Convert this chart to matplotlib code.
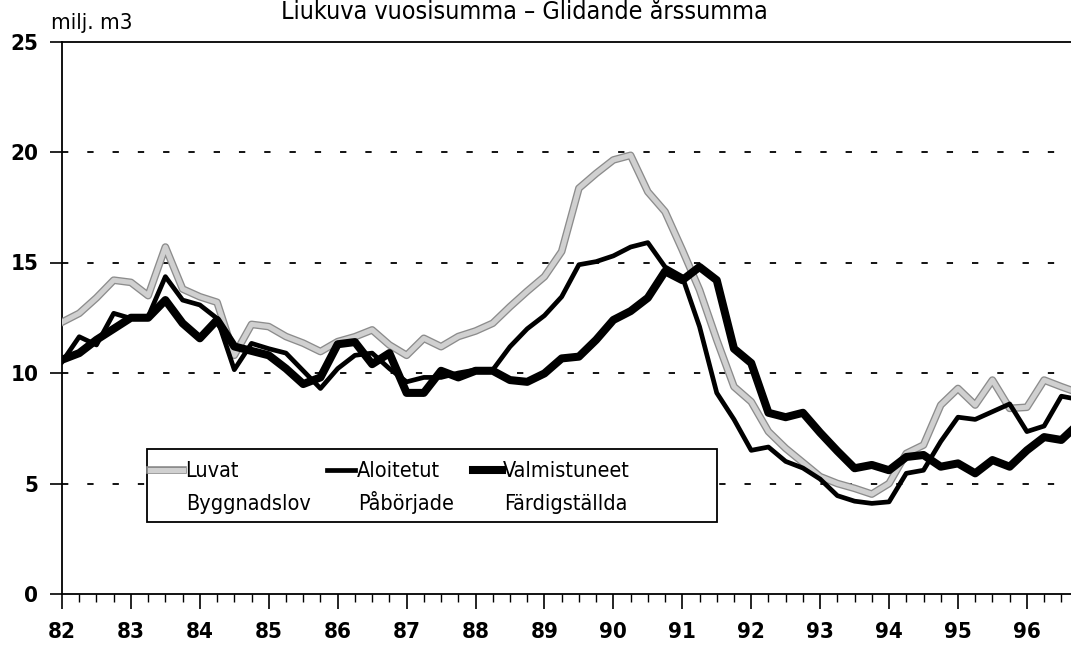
import numpy as np
import matplotlib
matplotlib.use("Agg")
import matplotlib.pyplot as plt
import matplotlib.patheffects as pe
from matplotlib.lines import Line2D
from matplotlib.patches import Rectangle
from matplotlib.ticker import MultipleLocator

# quarterly data 1982 Q1 .. 1996 Q4, milj. m3 (moving annual sum)
years = np.arange(82, 96.76, 0.25)

luvat = [12.3, 12.7, 13.4, 14.2, 14.1, 13.5, 15.7, 13.8, 13.45, 13.2, 10.8, 12.2,
         12.1, 11.65, 11.35, 10.97, 11.42, 11.64, 11.95, 11.27, 10.8, 11.57, 11.19, 11.65,
         11.9, 12.25, 13.0, 13.7, 14.36, 15.5, 18.36, 19.03, 19.64, 19.85, 18.2, 17.3,
         15.57, 13.76, 11.5, 9.38, 8.7, 7.35, 6.59, 5.95, 5.31, 5.0, 4.78, 4.52,
         5.0, 6.36, 6.74, 8.55, 9.3, 8.55, 9.68, 8.4, 8.45, 9.68, 9.38, 9.1]

aloitetut = [10.5, 11.64, 11.27, 12.7, 12.47, 12.55, 14.36, 13.3, 13.08, 12.47, 10.15, 11.34,
             11.1, 10.9, 10.1, 9.3, 10.2, 10.8, 10.9, 10.2, 9.6, 9.8, 9.8, 10.0,
             10.14, 10.14, 11.19, 12.0, 12.6, 13.45, 14.9, 15.04, 15.3, 15.7, 15.9, 14.8,
             14.36, 12.1, 9.1, 7.9, 6.5, 6.65, 6.0, 5.7, 5.2, 4.45, 4.2, 4.1,
             4.17, 5.46, 5.6, 6.9, 8.0, 7.9, 8.25, 8.6, 7.35, 7.6, 8.95, 8.8]

valmistuneet = [10.6, 10.9, 11.5, 12.0, 12.5, 12.5, 13.3, 12.25, 11.57, 12.4, 11.2, 11.0,
                10.8, 10.2, 9.5, 9.8, 11.3, 11.4, 10.4, 10.9, 9.1, 9.1, 10.1, 9.8,
                10.1, 10.1, 9.68, 9.6, 9.98, 10.66, 10.74, 11.5, 12.4, 12.8, 13.4, 14.6,
                14.2, 14.8, 14.2, 11.1, 10.45, 8.2, 8.0, 8.2, 7.3, 6.47, 5.69, 5.84,
                5.6, 6.2, 6.29, 5.76, 5.91, 5.46, 6.06, 5.76, 6.5, 7.1, 6.97, 7.7]

labels_fi = ["Luvat", "Aloitetut", "Valmistuneet"]
labels_sv = ["Byggnadslov", "Påbörjade", "Färdigställda"]

plt.rcParams['font.family'] = ['DejaVu Sans']
plt.rcParams['font.stretch'] = 'condensed'

fig = plt.figure(figsize=(10.71, 6.46), dpi=100)
ax = fig.add_axes([62 / 1071, 1 - 594 / 646, 1 - 62 / 1071, 552.5 / 646])

gray_fx = [pe.Stroke(linewidth=5.5, foreground='#8c8c8c'), pe.Normal()]
ax.plot(years, luvat, color='#d0d0d0', lw=3.6, path_effects=gray_fx,
        solid_joinstyle='round', zorder=3)
ax.plot(years, aloitetut, color='black', lw=3.4, solid_joinstyle='round', zorder=4)
ax.plot(years, valmistuneet, color='black', lw=5.8, solid_joinstyle='round', zorder=4)

ax.set_xlim(82, 96.64)
ax.set_ylim(0, 25)
ax.set_yticks(range(0, 26, 5))
ax.set_xticks(range(82, 97))
ax.set_xticklabels([str(y) for y in range(82, 97)])
ax.xaxis.set_minor_locator(MultipleLocator(0.25))

for v in range(5, 25, 5):
    ax.axhline(v, color='black', lw=1.3, dashes=(3.5, 10.5), zorder=1)

ax.spines['right'].set_visible(False)
for side in ['left', 'bottom', 'top']:
    ax.spines[side].set_linewidth(1.3)

ax.tick_params(axis='y', direction='out', length=9, width=1.2, pad=8,
               labelsize=16)
ax.tick_params(axis='x', which='major', direction='out', length=11, width=1.2,
               pad=9, labelsize=16)
ax.tick_params(axis='x', which='minor', direction='out', length=6, width=1.0)
for lab in ax.get_xticklabels() + ax.get_yticklabels():
    lab.set_fontweight('bold')

# legend box
ax.add_patch(Rectangle((0.0842, 0.1303), 0.5648, 0.1321, transform=ax.transAxes,
                       facecolor='white', edgecolor='black', lw=1.3, zorder=6))
handle_x = [(0.0872, 0.1199), (0.2626, 0.2904), (0.4073, 0.4361)]
text_x = [0.1219, 0.2924, 0.4371]
styles = [dict(color='#d0d0d0', lw=3.6, path_effects=gray_fx),
          dict(color='black', lw=3.4), dict(color='black', lw=5.8)]
for (h0, h1), tx, st, fi, sv in zip(handle_x, text_x, styles, labels_fi, labels_sv):
    ax.add_line(Line2D([h0, h1], [0.2244, 0.2244], transform=ax.transAxes,
                       zorder=7, **st))
    ax.text(tx, 0.2120, fi, transform=ax.transAxes, fontsize=15.5,
            va='baseline', ha='left', zorder=8)
    ax.text(tx + 0.001, 0.1525, sv, transform=ax.transAxes, fontsize=15.5,
            va='baseline', ha='left', zorder=8)

fig.text(0.49, 1.0, "Liukuva vuosisumma – Glidande årssumma",
         ha='center', va='top', fontsize=18)
fig.text(51 / 1071, 1 - 23 / 646, "milj. m3", ha='left', va='center', fontsize=16)

fig.savefig("out.png", dpi=100)
